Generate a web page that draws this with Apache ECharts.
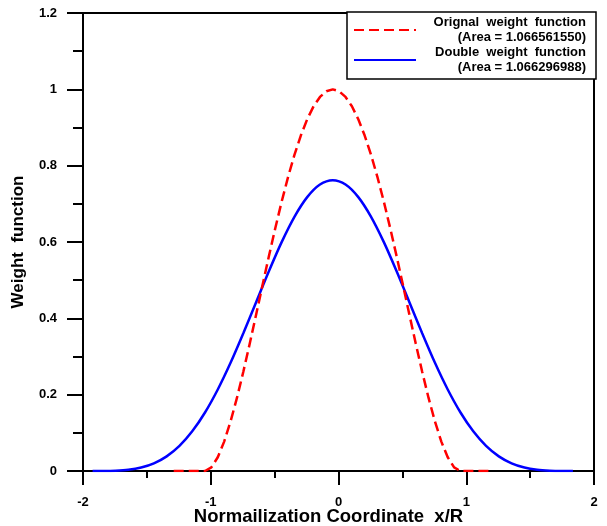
<!DOCTYPE html>
<html><head><meta charset="utf-8">
<script src="https://cdn.jsdelivr.net/npm/echarts@6/dist/echarts.min.js"></script>
<style>html,body{margin:0;padding:0;background:#fff}#c{width:607px;height:526px}</style>
</head><body><div id="c"></div>
<script>
// Original weight function (red dashed)
const redX = [-1.29, -1.045, -0.995, -0.945, -0.895, -0.845, -0.795, -0.745, -0.695, -0.645, -0.595,
  -0.545, -0.495, -0.445, -0.395, -0.345, -0.295, -0.245, -0.195, -0.145, -0.095, -0.045,
  0.005, 0.055, 0.105, 0.155, 0.205, 0.255, 0.305, 0.355, 0.405, 0.455, 0.505, 0.555,
  0.605, 0.655, 0.705, 0.755, 0.805, 0.855, 0.905, 0.955, 1.18];
const redY = [0, 0, 0.0095, 0.0361, 0.0770, 0.1296, 0.1914, 0.2601, 0.3335, 0.4096, 0.4865,
  0.5625, 0.6360, 0.7056, 0.7700, 0.8281, 0.8789, 0.9216, 0.9555, 0.9801, 0.9950, 1.0000,
  0.9950, 0.9801, 0.9555, 0.9216, 0.8789, 0.8281, 0.7700, 0.7056, 0.6360, 0.5625, 0.4865,
  0.4096, 0.3335, 0.2601, 0.1914, 0.1296, 0.0770, 0.0361, 0.0095, 0, 0];
// Double weight function (blue solid)
const blueX = [-1.925, -1.845, -1.745, -1.645, -1.545, -1.445, -1.345, -1.245, -1.145, -1.045,
  -0.945, -0.845, -0.745, -0.645, -0.545, -0.445, -0.345, -0.245, -0.145, -0.045,
  0.055, 0.155, 0.255, 0.355, 0.455, 0.555, 0.655, 0.755, 0.855, 0.955,
  1.055, 1.155, 1.255, 1.355, 1.455, 1.555, 1.655, 1.755, 1.835];
const blueY = [0, 0.0001, 0.0009, 0.0033, 0.0091, 0.0201, 0.0384, 0.0659, 0.1040, 0.1533,
  0.2136, 0.2835, 0.3609, 0.4422, 0.5233, 0.5996, 0.6659, 0.7176, 0.7506, 0.7619,
  0.7506, 0.7176, 0.6659, 0.5996, 0.5233, 0.4422, 0.3609, 0.2835, 0.2136, 0.1533,
  0.1040, 0.0659, 0.0384, 0.0201, 0.0091, 0.0033, 0.0009, 0.0001, 0];
const seriesNames = ['Orignal weight function', 'Double weight function'];
const areaLabels = ['(Area = 1.066561550)', '(Area = 1.066296988)'];
const xTicks = [-2, -1, 0, 1, 2];
const yTicks = [0, 0.2, 0.4, 0.6, 0.8, 1, 1.2];

const FONT = '"Liberation Sans", Arial, sans-serif';
const zip = (xs, ys) => xs.map((x, i) => [x, ys[i]]);
const chart = echarts.init(document.getElementById('c'), null, {renderer: 'canvas'});
chart.setOption({
  animation: false,
  backgroundColor: '#fff',
  grid: {left: 83, right: 13, top: 13, bottom: 55, show: true, borderColor: '#000', borderWidth: 2,
         containLabel: false, outerBoundsMode: 'none'},
  xAxis: {
    type: 'value', min: xTicks[0], max: xTicks[xTicks.length - 1], interval: 1,
    axisLine: {onZero: false, lineStyle: {color: '#000', width: 2}},
    axisTick: {inside: false, length: 14, lineStyle: {color: '#000', width: 2}},
    minorTick: {show: true, splitNumber: 2, length: 7, lineStyle: {color: '#000', width: 2}},
    splitLine: {show: false},
    axisLabel: {margin: 25, color: '#000', fontWeight: 'bold', fontSize: 13, fontFamily: FONT},
    name: 'Normailization Coordinate  x/R', nameLocation: 'middle', nameGap: 36, nameMoveOverlap: false,
    nameTextStyle: {color: '#000', fontWeight: 'bold', fontSize: 18.5, fontFamily: FONT, padding: [0, 20, 0, 0]}
  },
  yAxis: {
    type: 'value', min: yTicks[0], max: yTicks[yTicks.length - 1], interval: 0.2,
    axisLine: {onZero: false, lineStyle: {color: '#000', width: 2}},
    axisTick: {inside: false, length: 16, lineStyle: {color: '#000', width: 2}},
    minorTick: {show: true, splitNumber: 2, length: 10, lineStyle: {color: '#000', width: 2}},
    splitLine: {show: false},
    axisLabel: {margin: 26, color: '#000', fontWeight: 'bold', fontSize: 13, fontFamily: FONT},
    name: 'Weight  function', nameLocation: 'middle', nameGap: 56, nameMoveOverlap: false,
    nameTextStyle: {color: '#000', fontWeight: 'bold', fontSize: 17, fontFamily: FONT}
  },
  legend: {
    orient: 'vertical', left: 347, top: 12, itemWidth: 62, itemHeight: 14, itemGap: 2,
    padding: [4, 10, 5, 6], backgroundColor: '#fff', borderColor: '#000', borderWidth: 1.5, borderRadius: 0,
    itemStyle: {opacity: 0},
    data: seriesNames,
    formatter: function (name) {
      const i = seriesNames.indexOf(name);
      return '{a|' + name.split(' ').join('  ') + '}\n{a|' + areaLabels[i] + '}';
    },
    textStyle: {
      rich: {a: {width: 165, align: 'right', fontSize: 13, lineHeight: 15, fontWeight: 'bold', color: '#000', fontFamily: FONT}}
    }
  },
  series: [
    {name: seriesNames[0], type: 'line', data: zip(redX, redY), showSymbol: false, symbol: 'none',
     lineStyle: {color: '#ff0000', width: 2.5, type: [10, 5]}, itemStyle: {color: '#ff0000'}, z: 3},
    {name: seriesNames[1], type: 'line', data: zip(blueX, blueY), showSymbol: false, symbol: 'none', smooth: 0.3,
     lineStyle: {color: '#0000ff', width: 2.5}, itemStyle: {color: '#0000ff'}, z: 2}
  ]
});
</script></body></html>
